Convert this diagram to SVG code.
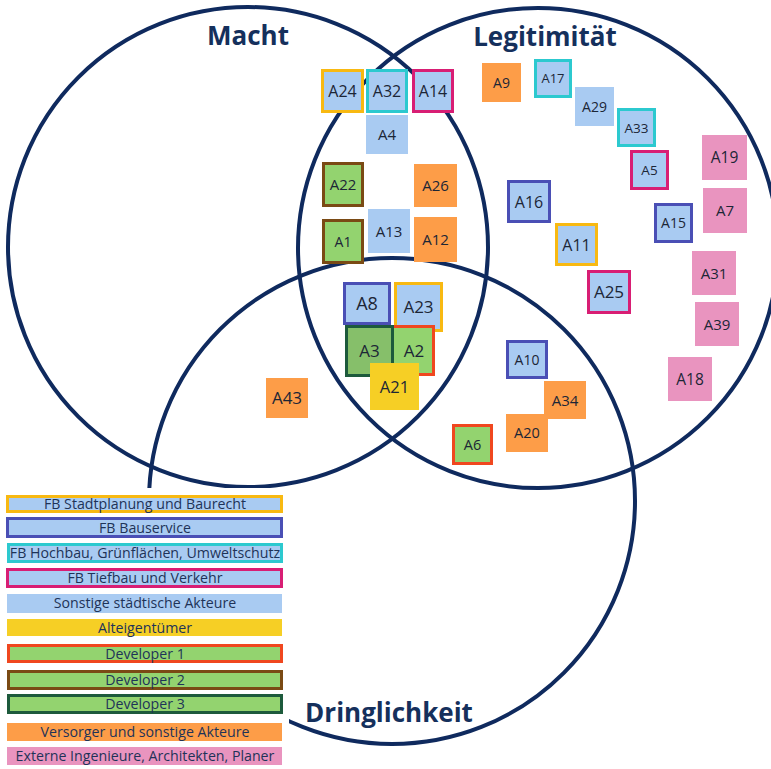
<svg xmlns="http://www.w3.org/2000/svg" width="771" height="769" viewBox="0 0 771 769">
<style>
.c{fill:none;stroke:#0f2a5e;stroke-width:4}
.t{font-family:"Open Sans","DejaVu Sans",sans-serif;fill:#1c2636;text-anchor:middle}
.h{font-family:"Open Sans","DejaVu Sans",sans-serif;font-weight:700;fill:#15305c;text-anchor:middle;font-size:26px}
.l{font-family:"Open Sans","DejaVu Sans",sans-serif;fill:#1e3358;text-anchor:middle;font-size:14.2px}
.b{fill:#a9cbf2}.g{fill:#93d36f}.gd{fill:#86bf6a}.o{fill:#fd9d48}.p{fill:#e994bf}.y{fill:#f6cf25}
.kg{stroke:#f8b912;stroke-width:3}.kc{stroke:#2cc9cf;stroke-width:3}.km{stroke:#d81e74;stroke-width:3}
.kb{stroke:#4a4fb5;stroke-width:3}.kr{stroke:#f0471f;stroke-width:3}.kn{stroke:#7a4a14;stroke-width:3}.kd{stroke:#1d5a3c;stroke-width:3}
</style>
<rect width="771" height="769" fill="#fff"/>
<g id="connectors">
<circle class="c" cx="248" cy="247" r="240"/>
<circle class="c" cx="538" cy="248" r="240"/>
<circle class="c" cx="392" cy="501" r="243"/>
</g>
<g id="titles">
<text class="h" x="248" y="45">Macht</text>
<text class="h" x="545" y="46">Legitimität</text>
<text class="h" x="389" y="722">Dringlichkeit</text>
</g>
<g id="A24"><rect class="b kg" x="322.5" y="70.5" width="40" height="41"/><text class="t" x="342.5" y="97" font-size="16">A24</text></g>
<g id="A32"><rect class="b kc" x="367.5" y="70.5" width="39" height="41"/><text class="t" x="387" y="97" font-size="16">A32</text></g>
<g id="A14"><rect class="b km" x="413.5" y="70.5" width="39" height="41"/><text class="t" x="433" y="97" font-size="16">A14</text></g>
<g id="A4"><rect class="b" x="366" y="115" width="42" height="39"/><text class="t" x="387" y="140" font-size="15">A4</text></g>
<g id="A22"><rect class="g kn" x="323.5" y="163.5" width="39" height="42"/><text class="t" x="343" y="190" font-size="15">A22</text></g>
<g id="A26"><rect class="o" x="414" y="164" width="43" height="43"/><text class="t" x="435.5" y="191" font-size="15">A26</text></g>
<g id="A1"><rect class="g kn" x="323.5" y="220.5" width="39" height="42"/><text class="t" x="343" y="246.5" font-size="14">A1</text></g>
<g id="A13"><rect class="b" x="368" y="209" width="42" height="44"/><text class="t" x="389" y="236.5" font-size="15">A13</text></g>
<g id="A12"><rect class="o" x="414" y="217" width="43" height="45"/><text class="t" x="435.5" y="245" font-size="15">A12</text></g>
<g id="A8"><rect class="b kb" x="344.5" y="283.5" width="45" height="40"/><text class="t" x="367" y="310" font-size="18">A8</text></g>
<g id="A23"><rect class="b kg" x="395.5" y="283.5" width="46" height="47"/><text class="t" x="418.5" y="313" font-size="17">A23</text></g>
<g id="A2"><rect class="g kr" x="392.5" y="326.5" width="41" height="48"/><text class="t" x="414" y="357" font-size="17">A2</text></g>
<g id="A3"><rect class="gd kd" x="346.5" y="326.5" width="46" height="49"/><text class="t" x="369.5" y="357" font-size="17">A3</text></g>
<g id="A21"><rect class="y" x="370" y="363" width="49" height="47"/><text class="t" x="394.5" y="392.5" font-size="16.5">A21</text></g>
<g id="A43"><rect class="o" x="266" y="378" width="42" height="40"/><text class="t" x="287" y="404" font-size="17">A43</text></g>
<g id="A10"><rect class="b kb" x="507.5" y="341.5" width="39" height="36"/><text class="t" x="527" y="364.5" font-size="14">A10</text></g>
<g id="A34"><rect class="o" x="544" y="381" width="42" height="38"/><text class="t" x="565" y="405.5" font-size="15">A34</text></g>
<g id="A20"><rect class="o" x="506" y="414" width="42" height="38"/><text class="t" x="527" y="438" font-size="14.5">A20</text></g>
<g id="A6"><rect class="g kr" x="453.5" y="425.5" width="38" height="38"/><text class="t" x="472.5" y="449.5" font-size="14.5">A6</text></g>
<g id="A9"><rect class="o" x="482" y="63" width="39" height="39"/><text class="t" x="501.5" y="87.5" font-size="14">A9</text></g>
<g id="A17"><rect class="b kc" x="535.5" y="60.5" width="35" height="36"/><text class="t" x="553" y="83" font-size="13">A17</text></g>
<g id="A29"><rect class="b" x="575" y="87" width="39" height="39"/><text class="t" x="594.5" y="111.5" font-size="14">A29</text></g>
<g id="A33"><rect class="b kc" x="618.5" y="109.5" width="36" height="36"/><text class="t" x="636.5" y="132.5" font-size="13.5">A33</text></g>
<g id="A5"><rect class="b km" x="631.5" y="151.5" width="36" height="37"/><text class="t" x="649.5" y="175" font-size="13.5">A5</text></g>
<g id="A19"><rect class="p" x="702" y="135" width="45" height="45"/><text class="t" x="724.5" y="163" font-size="15.5">A19</text></g>
<g id="A16"><rect class="b kb" x="508.5" y="181.5" width="41" height="40"/><text class="t" x="529" y="207.5" font-size="16">A16</text></g>
<g id="A15"><rect class="b kb" x="655.5" y="204.5" width="36" height="37"/><text class="t" x="673.5" y="228" font-size="14">A15</text></g>
<g id="A7"><rect class="p" x="703" y="188" width="44" height="45"/><text class="t" x="725" y="216" font-size="15">A7</text></g>
<g id="A11"><rect class="b kg" x="556.5" y="224.5" width="40" height="40"/><text class="t" x="576.5" y="250.5" font-size="16">A11</text></g>
<g id="A31"><rect class="p" x="692" y="251" width="44" height="44"/><text class="t" x="714" y="278.5" font-size="15">A31</text></g>
<g id="A25"><rect class="b km" x="588.5" y="271.5" width="41" height="41"/><text class="t" x="609" y="298" font-size="17">A25</text></g>
<g id="A39"><rect class="p" x="695" y="302" width="44" height="44"/><text class="t" x="717" y="329.5" font-size="15">A39</text></g>
<g id="A18"><rect class="p" x="668" y="357" width="44" height="44"/><text class="t" x="690" y="384.5" font-size="15.5">A18</text></g>
<g id="legend">
<rect x="0" y="488" width="289" height="281" fill="#fff"/>
<rect class="b kg" x="7.5" y="496.5" width="274" height="15"/><text class="l" x="145" y="509">FB Stadtplanung und Baurecht</text>
<rect class="b kb" x="7.5" y="518.5" width="274" height="18"/><text class="l" x="145" y="532.5">FB Bauservice</text>
<rect class="b kc" x="8.5" y="544.5" width="273" height="17"/><text class="l" x="145" y="558">FB Hochbau, Grünflächen, Umweltschutz</text>
<rect class="b km" x="7.5" y="569.5" width="274" height="17"/><text class="l" x="145" y="583">FB Tiefbau und Verkehr</text>
<rect class="b" x="7" y="594" width="275" height="19"/><text class="l" x="145" y="608">Sonstige städtische Akteure</text>
<rect class="y" x="7" y="619" width="275" height="17"/><text class="l" x="145" y="632.5">Alteigentümer</text>
<rect class="g kr" x="8.5" y="645.5" width="273" height="16"/><text class="l" x="145" y="658.5">Developer 1</text>
<rect class="g kn" x="8.5" y="671.5" width="273" height="17"/><text class="l" x="145" y="685">Developer 2</text>
<rect class="g kd" x="8.5" y="695.5" width="273" height="17"/><text class="l" x="145" y="709">Developer 3</text>
<rect class="o" x="7" y="723" width="275" height="18"/><text class="l" x="145" y="737">Versorger und sonstige Akteure</text>
<rect class="p" x="7" y="747" width="275" height="18"/><text class="l" x="145" y="761">Externe Ingenieure, Architekten, Planer</text>
</g>
</svg>
